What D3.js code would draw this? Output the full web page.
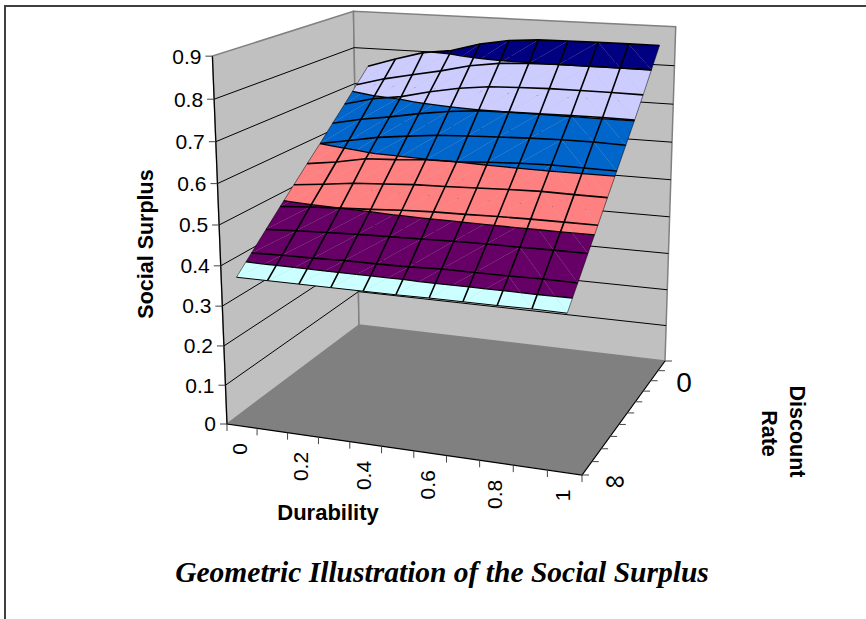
<!DOCTYPE html>
<html>
<head>
<meta charset="utf-8">
<script src="https://cdn.jsdelivr.net/npm/d3@7"></script>
<style>
  html, body { margin: 0; padding: 0; background: #fff; }
  svg { display: block; }
</style>
</head>
<body>
<div id="chart-container"></div>
<script>
// x categories (one band each), rows of the surface, value ticks
const durability = [0, 0.1, 0.2, 0.3, 0.4, 0.5, 0.6, 0.7, 0.8, 0.9, 1];
const durabilityLabels = [0, 0.2, 0.4, 0.6, 0.8, 1];
const rateSteps = [0, 1, 2, 3, 4, 5, 6, 7, 8, 9, 10];
const surplusTicks = [0, 0.1, 0.2, 0.3, 0.4, 0.5, 0.6, 0.7, 0.8, 0.9];
const bandLevels = [0.3, 0.4, 0.5, 0.6, 0.7, 0.8, 0.9];
const bandColors = ["#CCFFFF", "#660066", "#FF8080", "#0066CC", "#CCCCFF", "#000080"];

// one row per discount rate step (0 at the back, infinity at the front)
const surplusRate0 = [.751, .775, .797, .807, .829, .8425, .848, .849, .85, .85, .85];
const surplusRate1 = [.713, .734, .75, .765, .783, .794, .7985, .8, .8, .8, .8];
const surplusRate2 = [.675, .694, .705, .723, .737, .746, .749, .751, .751, .751, .75];
const surplusRate3 = [.638, .654, .666, .68, .691, .698, .7, .701, .702, .7025, .7015];
const surplusRate4 = [.6, .614, .628, .637, .645, .649, .652, .655, .657, .657, .655];
const surplusRate5 = [.564, .5745, .589, .593, .599, .6, .605, .609, .611, .61, .609];
const surplusRate6 = [.527, .535, .544, .549, .554, .556, .559, .562, .564, .563, .5625];
const surplusRate7 = [.49, .496, .5, .504, .509, .512, .513, .515, .516, .516, .516];
const surplusRate8 = [.452, .456, .459, .462, .464, .466, .468, .469, .469, .47, .47];
const surplusRate9 = [.414, .416, .417, .419, .419, .42, .423, .423, .423, .424, .423];
const surplusRate10 = [.376, .376, .376, .376, .376, .376, .377, .377, .377, .378, .377];
const surplus = [surplusRate0, surplusRate1, surplusRate2, surplusRate3, surplusRate4, surplusRate5,
    surplusRate6, surplusRate7, surplusRate8, surplusRate9, surplusRate10];

const width = 866, height = 619;

// scales into the unit box
const xScale = d3.scaleBand().domain(durability).range([0, 1]);
const zScale = d3.scalePoint().domain(rateSteps).range([0, 1]);
const yScale = d3.scaleLinear().domain([0, 0.9]).range([0, 1]);
const xMid = d => xScale(d) + xScale.bandwidth() / 2;

// floor corners on screen
const floorBackLeft = [359, 325], floorBackRight = [665, 361],
      floorFrontRight = [582, 475], floorFrontLeft = [227, 424];
// where known heights land on screen, the height direction is fitted to these
// [x, z, value, screenX, screenY, weight]
const heightAnchors = [
    [0, 1, .9, 214, 57, 1], [0, 1, .8, 216, 99, 1], [0, 1, .7, 217, 143, 1], [0, 1, .6, 217, 185, 1],
    [0, 1, .2, 225, 347, 1], [0, 1, .1, 225, 387, 1],
    [0, 0, .9, 353, 9, 1], [0, 0, .8, 353, 47, 1], [0, 0, .7, 355, 83, 1],
    [1, 0, .9, 675, 26, 1], [1, 0, .8, 675, 65, 1], [1, 0, .7, 673, 105, 1], [1, 0, .6, 671, 143, 1],
    [1, 0, .5, 669, 181, 1], [1, 0, .4, 669, 217, 1],
    [.955, .95, .4, 572, 300, 4], [.955, .735, .5, 593, 236, 4], [.955, .519, .6, 615, 176, 4],
    [.955, .303, .7, 634, 120, 4], [.955, .1, .8, 652, 69, 4],
    [.045, .937, .4, 245, 264, 4], [.045, .674, .5, 283, 202, 4], [.045, .4, .6, 322, 143, 4],
    [.045, .135, .7, 353, 90, 4]
];

function solve3(m, v) {
    const A = m.map((row, i) => [...row, v[i]]);
    for (let i = 0; i < 3; i++) {
        let best = i;
        for (let k = i + 1; k < 3; k++) if (Math.abs(A[k][i]) > Math.abs(A[best][i])) best = k;
        [A[i], A[best]] = [A[best], A[i]];
        for (let k = 0; k < 3; k++) {
            if (k === i) continue;
            const f = A[k][i] / A[i][i];
            for (let c = i; c < 4; c++) A[k][c] -= f * A[i][c];
        }
    }
    return A.map((row, i) => row[3] / row[i]);
}

function makeProjection() {
    const [x0, y0] = floorBackLeft, [x1, y1] = floorBackRight,
          [x2, y2] = floorFrontRight, [x3, y3] = floorFrontLeft;
    const dx1 = x1 - x2, dx2 = x3 - x2, sx = x0 - x1 + x2 - x3;
    const dy1 = y1 - y2, dy2 = y3 - y2, sy = y0 - y1 + y2 - y3;
    const den = dx1 * dy2 - dx2 * dy1;
    const g = (sx * dy2 - dx2 * sy) / den, h = (dx1 * sy - sx * dy1) / den;
    const a = x1 - x0 + g * x1, b = x3 - x0 + h * x3;
    const d = y1 - y0 + g * y1, e = y3 - y0 + h * y3;

    // weighted least squares for the height column (p, q, r)
    const ata = [[0, 0, 0], [0, 0, 0], [0, 0, 0]], atb = [0, 0, 0];
    const addRow = (row, rhs, weight) => {
        row.forEach((c, i) => {
            row.forEach((c2, k) => { ata[i][k] += weight * c * c2; });
            atb[i] += weight * c * rhs;
        });
    };
    heightAnchors.forEach(([x, z, v, U, V, weight]) => {
        const t = yScale(v), W = g * x + h * z + 1;
        addRow([t, 0, -U * t], U * W - (a * x + b * z + x0), weight);
        addRow([0, t, -V * t], V * W - (d * x + e * z + y0), weight);
    });
    const [p, q, r] = solve3(ata, atb);

    return (x, z, t) => {
        const w = g * x + h * z + 1 + r * t;
        return [(a * x + b * z + x0 + p * t) / w, (d * x + e * z + y0 + q * t) / w];
    };
}
const project = makeProjection();
const pt = (x, z, v) => project(x, z, yScale(v));

const svg = d3.select("#chart-container").append("svg")
    .attr("width", width)
    .attr("height", height)
    .style("font-family", "'Liberation Sans', Arial, sans-serif");

svg.append("rect").attr("width", width).attr("height", height).attr("fill", "#fff");

// picture frame, only top and left show
svg.append("path")
    .attr("d", `M5,${height}V6H${width}`)
    .attr("fill", "none")
    .attr("stroke", "#404040")
    .attr("stroke-width", 2);

const poly = pts => "M" + pts.map(p => p.join(",")).join("L") + "Z";
const line = d3.line();

// walls and floor
svg.append("path")
    .attr("d", poly([pt(0, 1, 0), pt(0, 0, 0), pt(0, 0, 0.9), pt(0, 1, 0.9)]))
    .attr("fill", "#C0C0C0").attr("stroke", "#808080").attr("stroke-width", 1.5);
svg.append("path")
    .attr("d", poly([pt(0, 0, 0), pt(1, 0, 0), pt(1, 0, 0.9), pt(0, 0, 0.9)]))
    .attr("fill", "#C0C0C0").attr("stroke", "#808080").attr("stroke-width", 1.5);
svg.append("path")
    .attr("d", poly([pt(0, 1, 0), pt(0, 0, 0), pt(1, 0, 0), pt(1, 1, 0)]))
    .attr("fill", "#808080");

// wall gridlines
surplusTicks.filter(v => v > 0 && v < 0.9).forEach(v => {
    svg.append("path")
        .attr("d", line([pt(0, 1, v), pt(0, 0, v), pt(1, 0, v)]))
        .attr("fill", "none").attr("stroke", "#000").attr("stroke-width", 1);
});

// axis lines
svg.append("path")
    .attr("d", line([pt(0, 1, 0.9), pt(0, 1, 0), pt(1, 1, 0), pt(1, 0, 0)]))
    .attr("fill", "none").attr("stroke", "#000").attr("stroke-width", 1.2);

// value axis ticks and labels
surplusTicks.forEach(v => {
    const [x, y] = pt(0, 1, v);
    svg.append("line")
        .attr("x1", x - 7).attr("x2", x).attr("y1", y).attr("y2", y)
        .attr("stroke", "#444").attr("stroke-width", 1);
    svg.append("text")
        .attr("x", x - 11).attr("y", y).attr("dy", "0.35em")
        .attr("text-anchor", "end")
        .style("font-size", "21px")
        .text(v);
});

// durability ticks sit on the band edges
d3.range(durability.length + 1).forEach(i => {
    const [x, y] = pt(i * xScale.step(), 1, 0);
    svg.append("line")
        .attr("x1", x).attr("x2", x).attr("y1", y).attr("y2", y + 7)
        .attr("stroke", "#444").attr("stroke-width", 1);
});
durabilityLabels.forEach(d => {
    const [x, y] = pt(xMid(d), 1, 0);
    svg.append("text")
        .attr("transform", `translate(${x - 2},${y + 17}) rotate(-90)`)
        .attr("dy", "0.35em")
        .attr("text-anchor", "end")
        .style("font-size", "21px")
        .text(d);
});

// discount rate ticks, only the two ends are labelled
rateSteps.forEach(s => {
    const [x, y] = pt(1, zScale(s), 0);
    svg.append("line")
        .attr("x1", x).attr("x2", x + 7).attr("y1", y).attr("y2", y)
        .attr("stroke", "#444").attr("stroke-width", 1);
});
svg.append("text")
    .attr("x", pt(1, 0, 0)[0] + 19).attr("y", pt(1, 0, 0)[1] + 21).attr("dy", "0.35em")
    .attr("text-anchor", "middle").style("font-size", "28px").text("0");
svg.append("text")
    .attr("x", pt(1, 1, 0)[0] + 33).attr("y", pt(1, 1, 0)[1] + 5).attr("dy", "0.35em")
    .attr("text-anchor", "middle").style("font-size", "28px").text("∞");

// clip a triangle [x, z, v] to lo <= v <= hi
function clipBand(tri, lo, hi) {
    const clip = (pts, keep, level) => {
        const out = [];
        pts.forEach((a, i) => {
            const b = pts[(i + 1) % pts.length];
            if (keep(a[2])) out.push(a);
            if (keep(a[2]) !== keep(b[2])) {
                const f = (level - a[2]) / (b[2] - a[2]);
                out.push([a[0] + f * (b[0] - a[0]), a[1] + f * (b[1] - a[1]), level]);
            }
        });
        return out;
    };
    const low = clip(tri, v => v >= lo, lo);
    return low.length ? clip(low, v => v <= hi, hi) : low;
}

// crossing of a level through a triangle, if any
function contourSegment(tri, level) {
    const hits = [];
    tri.forEach((a, i) => {
        const b = tri[(i + 1) % 3];
        if ((a[2] < level) !== (b[2] < level)) {
            const f = (level - a[2]) / (b[2] - a[2]);
            hits.push([a[0] + f * (b[0] - a[0]), a[1] + f * (b[1] - a[1]), level]);
        }
    });
    return hits.length === 2 ? hits : null;
}

const node = (i, j) => [xMid(durability[j]), zScale(rateSteps[i]), surplus[i][j]];
const triangles = [];
rateSteps.slice(0, -1).forEach((_, i) => {
    durability.slice(0, -1).forEach((_, j) => {
        const nw = node(i, j), ne = node(i, j + 1), sw = node(i + 1, j), se = node(i + 1, j + 1);
        // the cells split the other way in the last two columns
        if (j < 8) triangles.push([nw, ne, sw], [ne, se, sw]);
        else triangles.push([nw, ne, se], [nw, se, sw]);
    });
});

// colour bands, no stroke so the seams stay faintly visible like the original
const surface = svg.append("g");
triangles.forEach(tri => {
    bandColors.forEach((color, b) => {
        const pts = clipBand(tri, bandLevels[b], bandLevels[b + 1]);
        if (pts.length < 3) return;
        surface.append("path")
            .attr("d", poly(pts.map(p => project(p[0], p[1], yScale(p[2])))))
            .attr("fill", color);
    });
});

// contour lines between the bands
bandLevels.slice(1, -1).forEach(level => {
    triangles.forEach(tri => {
        const seg = contourSegment(tri, level);
        if (!seg) return;
        surface.append("path")
            .attr("d", line(seg.map(p => project(p[0], p[1], yScale(p[2])))))
            .attr("fill", "none").attr("stroke", "#000").attr("stroke-width", 1.3);
    });
});

// mesh lines
const meshPoint = n => project(n[0], n[1], yScale(n[2]));
rateSteps.forEach((_, i) => {
    surface.append("path")
        .attr("d", line(durability.map((_, j) => meshPoint(node(i, j)))))
        .attr("fill", "none").attr("stroke", "#000")
        .attr("stroke-width", i === rateSteps.length - 1 ? 1 : 1.6);
});
durability.forEach((_, j) => {
    const edge = j === 0 || j === durability.length - 1;
    surface.append("path")
        .attr("d", line(rateSteps.map((_, i) => meshPoint(node(i, j)))))
        .attr("fill", "none").attr("stroke", "#000")
        .attr("stroke-width", edge ? 0.5 : 1.6);
});

// axis titles
svg.append("text")
    .attr("transform", "translate(153,244) rotate(-90)")
    .attr("text-anchor", "middle")
    .style("font-size", "21.5px").style("font-weight", "bold")
    .text("Social Surplus");
svg.append("text")
    .attr("x", 328).attr("y", 520)
    .attr("text-anchor", "middle")
    .style("font-size", "22px").style("font-weight", "bold")
    .text("Durability");
svg.append("text")
    .attr("transform", "translate(790,431.5) rotate(90)")
    .attr("text-anchor", "middle")
    .style("font-size", "21.5px").style("font-weight", "bold")
    .text("Discount");
svg.append("text")
    .attr("transform", "translate(762,433.5) rotate(90)")
    .attr("text-anchor", "middle")
    .style("font-size", "21.5px").style("font-weight", "bold")
    .text("Rate");

// chart title
svg.append("text")
    .attr("x", 442).attr("y", 582)
    .attr("text-anchor", "middle")
    .style("font-family", "'Liberation Serif', 'Times New Roman', serif")
    .style("font-size", "29.5px").style("font-weight", "bold").style("font-style", "italic")
    .text("Geometric Illustration of the Social Surplus");
</script>
</body>
</html>
